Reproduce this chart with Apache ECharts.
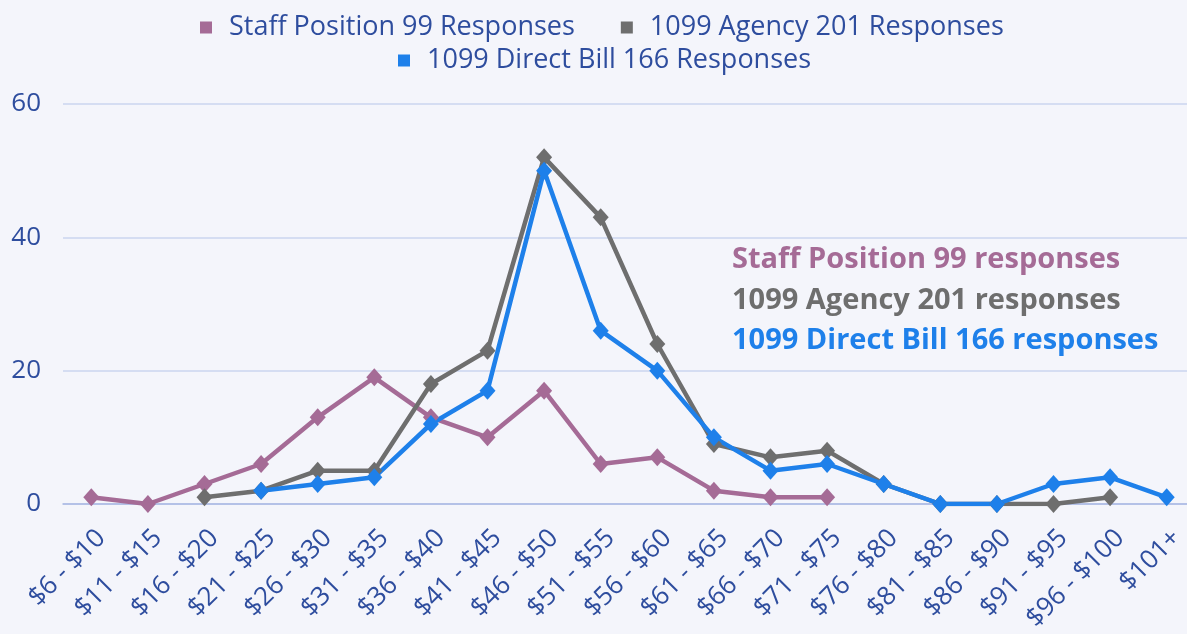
<!DOCTYPE html>
<html>
<head>
<meta charset="utf-8">
<script src="https://cdn.jsdelivr.net/npm/echarts@6/dist/echarts.min.js"></script>
<style>
  html, body { margin: 0; padding: 0; background: #F4F5FB; overflow: hidden; }
  #chart { width: 1195px; height: 634px; }
</style>
</head>
<body>
<div id="chart"></div>
<script>
const categories = ['$6 - $10', '$11 - $15', '$16 - $20', '$21 - $25', '$26 - $30', '$31 - $35', '$36 - $40', '$41 - $45', '$46 - $50', '$51 - $55', '$56 - $60', '$61 - $65', '$66 - $70', '$71 - $75', '$76 - $80', '$81 - $85', '$86 - $90', '$91 - $95', '$96 - $100', '$101+'];
const seriesNames = ['Staff Position 99 Responses', '1099 Agency 201 Responses', '1099 Direct Bill 166 Responses'];
const staffValues = [1, 0, 3, 6, 13, 19, 13, 10, 17, 6, 7, 2, 1, 1, null, null, null, null, null, null];
const agencyValues = [null, null, 1, 2, 5, 5, 18, 23, 52, 43, 24, 9, 7, 8, 3, 0, 0, 0, 1, null];
const directValues = [null, null, null, 2, 3, 4, 12, 17, 50, 26, 20, 10, 5, 6, 3, 0, 0, 3, 4, 1];
const yTicks = [0, 20, 40, 60];
const noteLines = ['Staff Position 99 responses', '1099 Agency 201 responses', '1099 Direct Bill 166 responses'];

const colors = ['#A56B96', '#6E6E6E', '#1E80EA'];
const textBlue = '#2E4D9E';

const chart = echarts.init(document.getElementById('chart'), null, { renderer: 'canvas' });

const mkSeries = (name, data, color) => ({
  name, type: 'line', data,
  symbol: 'diamond', symbolSize: [16, 18],
  lineStyle: { width: 4.5, color },
  itemStyle: { color },
  emphasis: { disabled: true },
  animation: false
});

const legendBase = {
  icon: 'rect', itemWidth: 12, itemHeight: 12, itemGap: 46, padding: 0,
  textStyle: { fontFamily: 'Open Sans', fontSize: 27, color: textBlue, padding: [0, 0, 0, 12] },
  orient: 'horizontal'
};

chart.setOption({
  backgroundColor: '#F4F5FB',
  color: colors,
  animation: false,
  legend: [
    Object.assign({}, legendBase, { data: [seriesNames[0], seriesNames[1]], left: 200, top: 14 }),
    Object.assign({}, legendBase, { data: [seriesNames[2]], left: 398, top: 47 })
  ],
  grid: { left: 63, right: 0, top: 104, bottom: 130, containLabel: false, outerBoundsMode: 'none' },
  xAxis: {
    type: 'category', data: categories, boundaryGap: true,
    axisLine: { show: true, lineStyle: { color: '#A9B8E3', width: 1.5 } },
    axisTick: { show: false },
    axisLabel: { rotate: 45, interval: 0, fontFamily: 'Open Sans', fontSize: 26, lineHeight: 28,
      verticalAlign: 'top', color: textBlue, margin: 20 }
  },
  yAxis: {
    type: 'value', min: yTicks[0], max: yTicks[yTicks.length - 1], interval: 20,
    axisLine: { show: false }, axisTick: { show: false },
    splitLine: { lineStyle: { color: '#CBD4EF', width: 1.5 } },
    axisLabel: { fontFamily: 'Open Sans', fontSize: 26, color: textBlue, margin: 22 }
  },
  graphic: noteLines.map((t, i) => ({
    type: 'text', x: 732, y: 260 + i * 40.5,
    style: { text: t, fill: colors[i], font: 'bold 29px "Open Sans"', verticalAlign: 'middle' }
  })),
  series: [
    mkSeries(seriesNames[0], staffValues, colors[0]),
    mkSeries(seriesNames[1], agencyValues, colors[1]),
    mkSeries(seriesNames[2], directValues, colors[2])
  ]
});
</script>
</body>
</html>
